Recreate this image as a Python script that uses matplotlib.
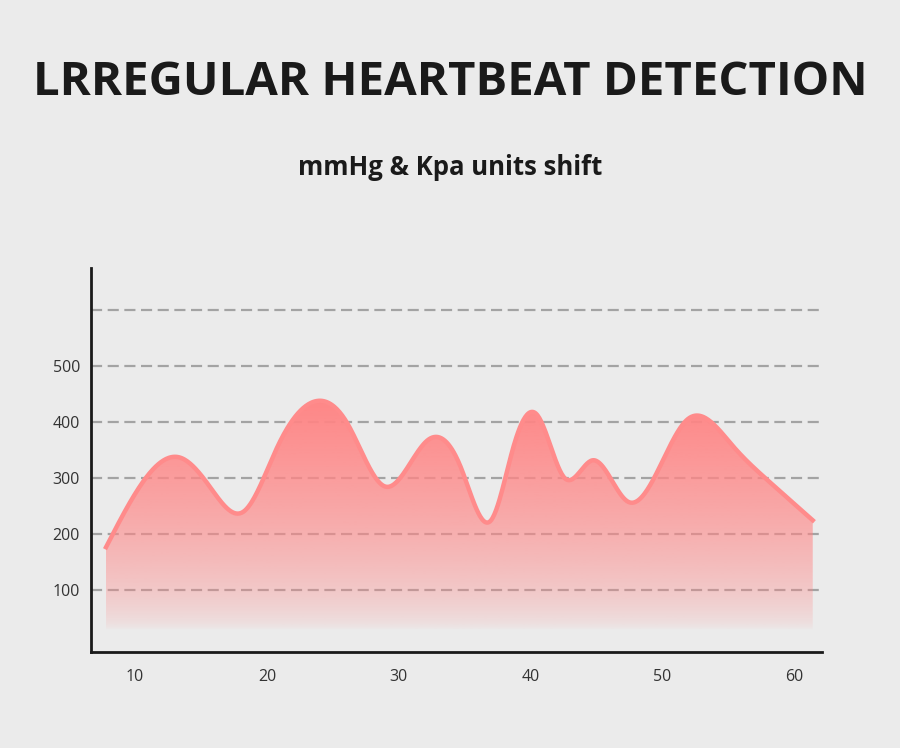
import numpy as np
import matplotlib.pyplot as plt
from matplotlib.colors import to_rgb

# curve anchor points
x_pts = [7.8, 10.0, 13.4, 15.7, 18.2, 20.8, 23.5, 26.1, 29.0, 32.2, 34.7,
         37.0, 38.7, 40.5, 42.6, 44.7, 47.4, 51.9, 55.4, 58.0, 61.4]
y_pts = [177, 272, 337, 284, 240, 356, 436, 398, 285, 368, 320,
         225, 356, 413, 300, 332, 258, 405, 356, 296, 225]

y_ticks = [100, 200, 300, 400, 500]
grid_lines = [100, 200, 300, 400, 500, 600]
x_ticks = [10, 20, 30, 40, 50, 60]

title = "LRREGULAR HEARTBEAT DETECTION"
subtitle = "mmHg & Kpa units shift"

bg = "#ebebeb"
line_col = "#ff8b8b"


def smooth(x, y, xn):
    # natural cubic spline, only to draw a smooth line through the points
    x = np.asarray(x, float); y = np.asarray(y, float)
    n = len(x); h = np.diff(x)
    A = np.zeros((n, n)); r = np.zeros(n)
    A[0, 0] = A[-1, -1] = 1
    for k in range(1, n - 1):
        A[k, k-1] = h[k-1]; A[k, k] = 2*(h[k-1] + h[k]); A[k, k+1] = h[k]
        r[k] = 6*((y[k+1] - y[k])/h[k] - (y[k] - y[k-1])/h[k-1])
    M = np.linalg.solve(A, r)
    i = np.clip(np.searchsorted(x, xn) - 1, 0, n - 2)
    a = x[i+1] - xn; b = xn - x[i]
    return (M[i]*a**3 + M[i+1]*b**3)/(6*h[i]) + (y[i]/h[i] - M[i]*h[i]/6)*a \
        + (y[i+1]/h[i] - M[i+1]*h[i]/6)*b


xs = np.linspace(x_pts[0], x_pts[-1], 800)
ys = smooth(x_pts, y_pts, xs)

plt.rcParams['font.family'] = ['Open Sans', 'DejaVu Sans']
fig = plt.figure(figsize=(9, 7.48), dpi=100, facecolor=bg)
ax = fig.add_axes([0.1011, 0.1283, 0.8122, 0.5134])
ax.set_facecolor(bg)

for g in grid_lines:
    ax.axhline(g, color="#a3a3a3", lw=1.6, dashes=(5, 2.5), zorder=1)

# gradient fill under the curve
y0, y1 = 30, 450
ny = 300
yy = np.linspace(y0, y1, ny)
alpha = np.clip((yy - y0) / (y1 - y0), 0, 1) ** 0.6
rgb = to_rgb("#ff8585")
img = np.zeros((ny, 1, 4))
img[:, 0, :3] = rgb
img[:, 0, 3] = alpha
poly = ax.fill_between(xs, ys, y0, color="none", lw=0)
im = ax.imshow(img, extent=[xs[0], xs[-1], y0, y1], origin="lower",
               aspect="auto", zorder=2, interpolation="bilinear")
im.set_clip_path(poly.get_paths()[0], transform=ax.transData)
ax.plot(xs, ys, color=line_col, lw=3.2, zorder=3)
ax.set_xlim(6.66, 62.1)
ax.set_ylim(-10, 675)

for s in ["top", "right"]:
    ax.spines[s].set_visible(False)
for s in ["left", "bottom"]:
    ax.spines[s].set_color("#1a1a1a")
    ax.spines[s].set_linewidth(2)
ax.set_yticks(y_ticks)
ax.set_xticks(x_ticks)
ax.tick_params(length=0, labelsize=11.5, colors="#333333", pad=12)
ax.tick_params(axis="y", pad=8)

fig.text(0.5, 0.89, title, ha="center", va="center", fontsize=34,
         fontweight="bold", color="#1a1a1a")
fig.text(0.5, 0.776, subtitle, ha="center", va="center", fontsize=18.5,
         fontweight="bold", color="#1a1a1a")

fig.savefig("out.png", dpi=100, facecolor=bg)
